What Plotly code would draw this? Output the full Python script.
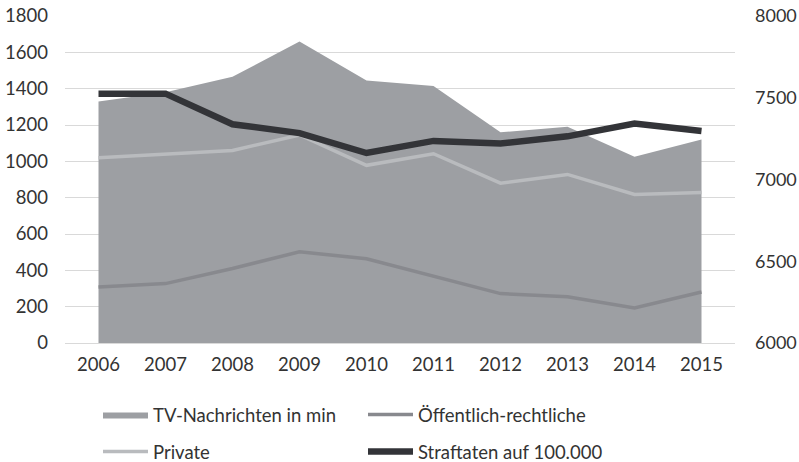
import plotly.graph_objects as go

years = ["2006", "2007", "2008", "2009", "2010", "2011", "2012", "2013", "2014", "2015"]
tv_minutes = [1330, 1380, 1465, 1660, 1445, 1415, 1160, 1190, 1025, 1120]
oeffentlich = [308, 327, 410, 502, 464, 370, 272, 255, 193, 281]
private = [1020, 1042, 1060, 1145, 978, 1042, 880, 928, 818, 829]
straftaten = [7525, 7525, 7338, 7284, 7162, 7236, 7220, 7264, 7342, 7297]

xs = list(range(len(years)))
FONT = "Lato"
TXT = "#333333"
W, H = 799, 462

fig = go.Figure()
fig.add_trace(go.Scatter(
    x=xs, y=tv_minutes, name="TV-Nachrichten in min", mode="lines",
    fill="tozeroy", fillcolor="#9d9fa3", line=dict(width=0, color="#9d9fa3"),
    legend="legend",
))
fig.add_trace(go.Scatter(
    x=xs, y=oeffentlich, name="Öffentlich-rechtliche", mode="lines",
    line=dict(width=3.5, color="#88898e"), legend="legend",
))
fig.add_trace(go.Scatter(
    x=xs, y=private, name="Private", mode="lines",
    line=dict(width=3.5, color="#b9bbbe"), legend="legend2",
))
fig.add_trace(go.Scatter(
    x=xs, y=straftaten, name="Straftaten auf 100.000", mode="lines",
    line=dict(width=6.5, color="#333438"), yaxis="y2", legend="legend2",
))

leg_common = dict(
    orientation="h", xref="container", yref="container",
    x=98 / W, xanchor="left", yanchor="middle",
    entrywidth=205, entrywidthmode="pixels", itemwidth=45,
    font=dict(family=FONT, size=18.5, color=TXT),
    traceorder="normal", bgcolor="rgba(0,0,0,0)",
)

fig.update_layout(
    width=W, height=H,
    margin=dict(l=65, r=64, t=16, b=119),
    paper_bgcolor="white", plot_bgcolor="white",
    font=dict(family=FONT, size=18.5, color=TXT),
    showlegend=True,
    legend=dict(leg_common, y=1 - 415 / H),
    legend2=dict(leg_common, y=1 - 452 / H),
    xaxis=dict(
        range=[-0.5, len(years) - 0.5], tickvals=xs, ticktext=years,
        showgrid=False, zeroline=False, showline=False, ticks="",
        automargin=False, ticklabelstandoff=8,
        tickfont=dict(family=FONT, size=18.5, color=TXT),
    ),
    yaxis=dict(
        range=[0, 1800], dtick=200, tick0=0, showgrid=True, gridcolor="#d9d9d9",
        gridwidth=1, zeroline=True, zerolinecolor="#d9d9d9", zerolinewidth=1,
        showline=False, ticks="", ticklabelstandoff=16, automargin=False,
        tickfont=dict(family=FONT, size=18.5, color=TXT),
    ),
    yaxis2=dict(
        range=[6000, 8000], dtick=500, tick0=6000, overlaying="y", side="right",
        showgrid=False, zeroline=False, showline=False, ticks="",
        ticklabelstandoff=19, automargin=False,
        tickfont=dict(family=FONT, size=18, color=TXT),
    ),
)

fig.write_html(
    "out.html",
    config={"displayModeBar": False},
    post_script="document.body.style.margin='0';document.body.style.overflow='hidden';",
)
